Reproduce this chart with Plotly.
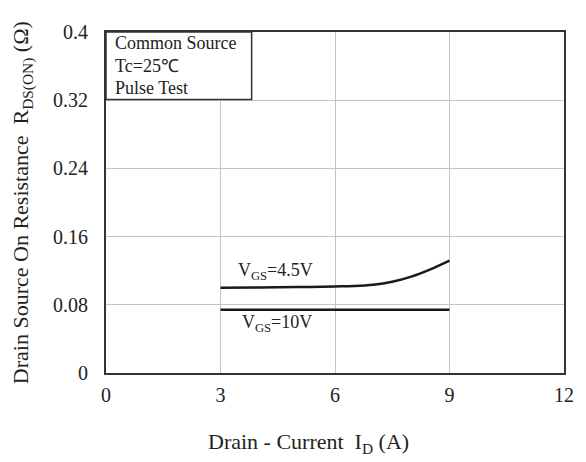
import plotly.graph_objects as go

# Data
id_45 = [3.0, 4.0, 5.0, 6.0, 6.5, 7.0, 7.5, 8.0, 8.5, 9.0]
r_45 = [0.100, 0.1003, 0.1008, 0.1015, 0.102, 0.1035, 0.107, 0.113, 0.1215, 0.1317]
id_10 = [3.0, 9.0]
r_10 = [0.0743, 0.0743]
x_ticks = [0, 3, 6, 9, 12]
y_ticks = [0, 0.08, 0.16, 0.24, 0.32, 0.4]
y_tick_labels = ["0", "0.08", "0.16", "0.24", "0.32", "0.4"]
box_lines = ["Common Source", "Tc=25℃", "Pulse Test"]

FONT = "Liberation Serif, Times New Roman, serif"
TXT = "#222222"

fig = go.Figure()
fig.add_trace(go.Scatter(x=id_45, y=r_45, mode="lines", line=dict(color="#1a1a1a", width=2.5, shape="spline"), hoverinfo="skip"))
fig.add_trace(go.Scatter(x=id_10, y=r_10, mode="lines", line=dict(color="#1a1a1a", width=2.5), hoverinfo="skip"))

fig.update_layout(
    width=586, height=462,
    margin=dict(l=106, r=19, t=32, b=89),
    paper_bgcolor="white", plot_bgcolor="white",
    showlegend=False,
    font=dict(family=FONT, size=20, color=TXT),
)
fig.update_xaxes(range=[0, 12], tickvals=x_ticks, ticktext=[str(v) for v in x_ticks],
                 showgrid=True, gridcolor="#c4c4c4", gridwidth=1,
                 showline=True, linecolor="#333333", linewidth=2, mirror=True,
                 ticks="", ticklabelstandoff=3, zeroline=False,
                 tickfont=dict(family=FONT, size=20, color=TXT))
fig.update_yaxes(range=[0, 0.4], tickvals=y_ticks, ticktext=y_tick_labels,
                 showgrid=True, gridcolor="#c4c4c4", gridwidth=1,
                 showline=True, linecolor="#333333", linewidth=2, mirror=True,
                 ticks="", ticklabelstandoff=12, zeroline=False,
                 tickfont=dict(family=FONT, size=20, color=TXT))

# Condition box
fig.add_shape(type="rect", xref="x domain", yref="y domain", x0=0, x1=0.318, y0=0.802, y1=1,
              line=dict(color="#333333", width=1.5), fillcolor="white", layer="above")
box_y = [0.9677, 0.9003, 0.8358]
for t, yy in zip(box_lines, box_y):
    fig.add_annotation(xref="x domain", yref="y domain", x=0.016, y=yy,
                       text=t, showarrow=False, xanchor="left", yanchor="middle",
                       font=dict(family=FONT, size=18, color=TXT))

# Curve labels
fig.add_annotation(x=3.4, y=0.1185, text="V<sub>GS</sub>=4.5V", showarrow=False,
                   xanchor="left", yanchor="middle", font=dict(family=FONT, size=18, color=TXT))
fig.add_annotation(x=3.5, y=0.058, text="V<sub>GS</sub>=10V", showarrow=False,
                   xanchor="left", yanchor="middle", font=dict(family=FONT, size=18, color=TXT))

# Axis titles
fig.add_annotation(xref="paper", yref="paper", x=0.4425, y=-0.205, yanchor="middle",
                   text="Drain - Current  I<sub>D</sub> (A)", showarrow=False,
                   font=dict(family=FONT, size=22, color=TXT))
fig.add_annotation(xref="paper", yref="paper", x=-0.182, xanchor="center", y=0.5, yanchor="middle",
                   text="Drain Source On Resistance  R<sub>DS(ON)</sub> (Ω)", textangle=-90,
                   showarrow=False, font=dict(family=FONT, size=22, color=TXT))

fig.write_html("out.html")
